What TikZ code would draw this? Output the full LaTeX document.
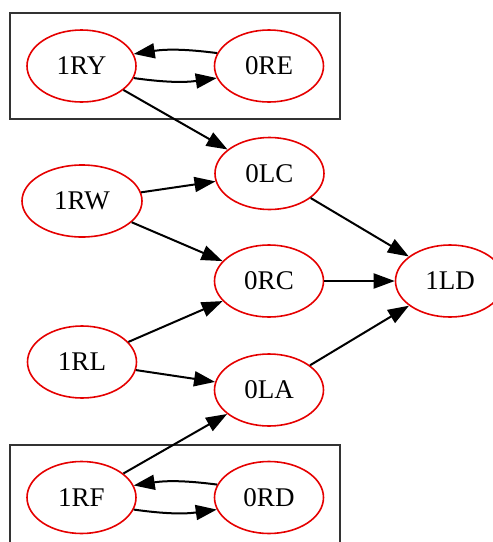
\documentclass[tikz,border=0pt]{standalone}
\usepackage{fontspec}
\setmainfont{Liberation Serif}
\usepackage{tikz}
\usetikzlibrary{arrows.meta,shapes.geometric,fit}

\begin{document}
\begin{tikzpicture}[
  x=1pt, y=-1pt,
  font=\fontsize{27}{30}\selectfont,
  state/.style={draw=red!90!black, line width=1.6pt, ellipse, inner sep=0pt,
    minimum width=109pt, minimum height=72pt},
  wide/.style={state, minimum width=120pt},
  cluster/.style={draw=black!80, line width=2pt, inner sep=16pt},
  arr/.style={-{Triangle[length=21pt,width=15pt]}, line width=2pt}
]
\useasboundingbox (0,0) rectangle (493,542);
% upper group
\node[state] (ry) at (81.5,66) {1RY};
\node[state] (ore) at (269,66) {0RE};
\node[cluster, fit=(ry)(ore)] (topbox) {};
% middle column
\node[wide] (rw) at (82,201) {1RW};
\node[state] (rl) at (82,362) {1RL};
\node[state] (lc) at (269.5,173.5) {0LC};
\node[state] (rc) at (269,281) {0RC};
\node[state] (la) at (269,390) {0LA};
\node[state] (ld) at (450,281) {1LD};
% lower group
\node[state] (rf) at (81.5,497.5) {1RF};
\node[state] (ord) at (269,497.5) {0RD};
\node[cluster, fit=(rf)(ord)] (botbox) {};

\draw[arr] (ore.166) to[bend right=8] (ry.13);
\draw[arr] (ry.-13) to[bend right=8] (ore.193);
\draw[arr] (ord.166) to[bend right=8] (rf.13);
\draw[arr] (rf.-13) to[bend right=8] (ord.193);
\draw[arr] (ry) -- (lc);
\draw[arr] (rw) -- (lc);
\draw[arr] (rw) -- (rc);
\draw[arr] (rl) -- (rc);
\draw[arr] (rl) -- (la);
\draw[arr] (rf) -- (la);
\draw[arr] (lc) -- (ld);
\draw[arr] (rc) -- (ld);
\draw[arr] (la) -- (ld);
\end{tikzpicture}
\end{document}
